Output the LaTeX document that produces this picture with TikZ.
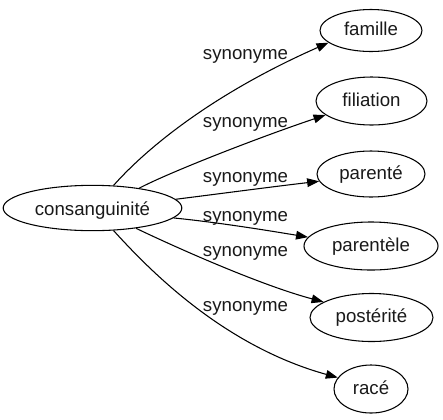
\documentclass[tikz,border=0pt]{standalone}
\usepackage{fontspec}
\setmainfont{Liberation Sans}
\usetikzlibrary{arrows.meta,shapes.geometric}
\begin{document}
\begin{tikzpicture}[x=0.75pt,y=-0.75pt,
  every node/.style={font=\fontsize{14pt}{16pt}\selectfont, text=black!90},
  word/.style={ellipse, draw, line width=0.8pt, inner sep=0pt, text height=10pt, text depth=2.5pt},
  edge/.style={draw, line width=0.8pt, -{Triangle[length=9pt,width=6.5pt]}},
  lbl/.style={anchor=base, inner sep=0pt}]
\useasboundingbox (0,0) rectangle (443,419);
\node[word, minimum width=134pt, minimum height=34pt, text height=11.5pt, text depth=1pt] (c) at (92.5,208) {consanguinité};
\node[word, minimum width=76.5pt, minimum height=31.5pt] (famille) at (371,30.5) {famille};
\node[word, minimum width=83.25pt, minimum height=36pt] (filiation) at (371.5,101) {filiation};
\node[word, minimum width=81pt, minimum height=34.5pt] (parente) at (371,174) {parenté};
\node[word, minimum width=100.5pt, minimum height=36pt] (parentele) at (371,246) {parentèle};
\node[word, minimum width=92.25pt, minimum height=36pt] (posterite) at (371.5,317.5) {postérité};
\node[word, minimum width=55.5pt, minimum height=36pt] (race) at (371,389) {racé};
\draw[edge] (c.47) .. controls (145,150) and (210,95) .. (famille.196);
\draw[edge] (c.23) .. controls (170,172) and (260,137) .. (filiation.197.5);
\draw[edge] (c.6.4) .. controls (210,195) and (270,187) .. (parente.188.6);
\draw[edge] (c.-7) .. controls (215,222) and (265,230) .. (parentele.172);
\draw[edge] (c.-25) .. controls (175,247) and (260,285) .. (posterite.162.6);
\draw[edge] (c.-47) .. controls (145,265) and (220,345) .. (race.161.6);
\node[lbl] (l1) at (245.5,59) {synonyme};
\node[lbl] (l2) at (245.5,127) {synonyme};
\node[lbl] (l3) at (245.5,182) {synonyme};
\node[lbl] (l4) at (245.5,221) {synonyme};
\node[lbl] (l5) at (245.5,256) {synonyme};
\node[lbl] (l6) at (245.5,311) {synonyme};
\end{tikzpicture}
\end{document}
